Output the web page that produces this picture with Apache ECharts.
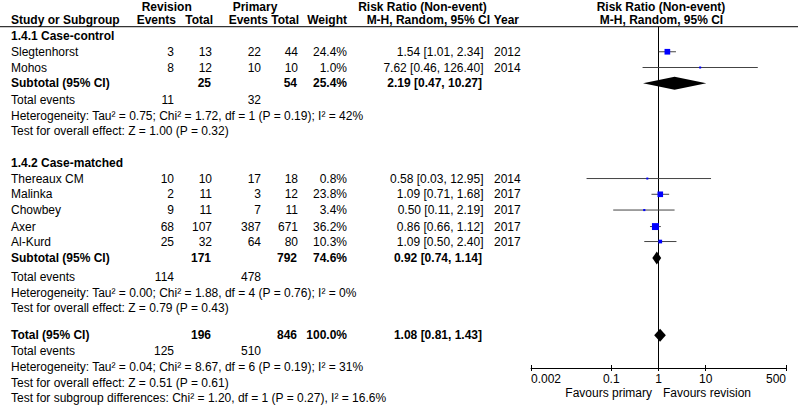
<!DOCTYPE html>
<html><head><meta charset="utf-8">
<style>html,body{margin:0;padding:0;background:#fff}#c{width:798px;height:409px}</style>
<script src="https://cdn.jsdelivr.net/npm/echarts@6/dist/echarts.min.js"></script>
</head><body><div id="c"></div><script>
// ---------------- data ----------------
const studyNames = ['Slegtenhorst','Mohos','Thereaux CM','Malinka','Chowbey','Axer','Al-Kurd'];
const studyGroup = [0,0,1,1,1,1,1];
const revEvents = [3,8,10,2,9,68,25];
const revTotal = [13,12,10,11,11,107,32];
const priEvents = [22,10,17,3,7,387,64];
const priTotal = [44,10,18,12,11,671,80];
const weights = [24.4,1.0,0.8,23.8,3.4,36.2,10.3];
const rr = [1.54,7.62,0.58,1.09,0.50,0.86,1.09];
const ciLow = [1.01,0.46,0.03,0.71,0.11,0.66,0.50];
const ciHigh = [2.34,126.40,12.95,1.68,2.19,1.12,2.40];
const years = [2012,2014,2014,2017,2017,2017,2017];

const groupLabels = ['1.4.1 Case-control','1.4.2 Case-matched'];
const groupRevTotal = [25,171];
const groupPriTotal = [54,792];
const groupWeight = [25.4,74.6];
const groupRR = [2.19,0.92];
const groupLow = [0.47,0.74];
const groupHigh = [10.27,1.14];
const groupRevEvents = [11,114];
const groupPriEvents = [32,478];
const groupHet = ['Heterogeneity: Tau² = 0.75; Chi² = 1.72, df = 1 (P = 0.19); I² = 42%',
                  'Heterogeneity: Tau² = 0.00; Chi² = 1.88, df = 4 (P = 0.76); I² = 0%'];
const groupTest = ['Test for overall effect: Z = 1.00 (P = 0.32)',
                   'Test for overall effect: Z = 0.79 (P = 0.43)'];

const totalValues = {revTotal:196, priTotal:846, weight:100.0, rr:1.08, low:0.81, high:1.43, revEvents:125, priEvents:510};
const totalHet = 'Heterogeneity: Tau² = 0.04; Chi² = 8.67, df = 6 (P = 0.19); I² = 31%';
const totalTest = 'Test for overall effect: Z = 0.51 (P = 0.61)';
const subgroupTest = 'Test for subgroup differences: Chi² = 1.20, df = 1 (P = 0.27), I² = 16.6%';

const tickValues = [0.002,0.1,1,10,500];
const tickLabels = ['0.002','0.1','1','10','500'];
const axisLeftLabel = 'Favours primary';
const axisRightLabel = 'Favours revision';

// ---------------- layout ----------------
const W = 798, ROW_Y0 = 36, ROW_H = 15.75, PLOT_BOTTOM = 368;
const Y_MIN = -ROW_Y0 / ROW_H, Y_MAX = (PLOT_BOTTOM - ROW_Y0) / ROW_H;
const headerRow1 = -1.82, headerRow2 = -1, ruleRow = -0.59;
const groupLayout = [
  {head:0, studies:[1,2], sub:3, te:4.05, het:5.05, test:6.05},
  {head:8.05, studies:[9.05,10.05,11.05,12.1,13.05], sub:14.1, te:15.3, het:16.3, test:17.25}
];
const totalLayout = {total:19, te:20, het:21, test:22, subgroup:23};
const col = {name:11, revEv:174, revTot:212, priEv:261, priTot:298, weight:347, ci:483.5, year:494};
const colBold = {revTot:211, priTot:297, weight:347, ci:482};
const FONT = '"Liberation Sans", Arial, Helvetica, sans-serif';

const fmtCI = (a,b,c) => `${a.toFixed(2)} [${b.toFixed(2)}, ${c.toFixed(2)}]`;
const fmtW = w => w.toFixed(1) + '%';

// ---------------- text table ----------------
const texts = [];
const T = (x, r, t, b, a) => texts.push({x, r, t:String(t), b:!!b, a:a||'right'});
T(166.7, headerRow1, 'Revision', 1, 'center');
T(255, headerRow1, 'Primary', 1, 'center');
T(422.5, headerRow1, 'Risk Ratio (Non-event)', 1, 'center');
T(661, headerRow1, 'Risk Ratio (Non-event)', 1, 'center');
T(col.name, headerRow2, 'Study or Subgroup', 1, 'left');
T(176, headerRow2, 'Events', 1);
T(213, headerRow2, 'Total', 1);
T(268, headerRow2, 'Events', 1);
T(299, headerRow2, 'Total', 1);
T(347, headerRow2, 'Weight', 1);
T(428.3, headerRow2, 'M-H, Random, 95% CI', 1, 'center');
T(519, headerRow2, 'Year', 1);
T(661.5, headerRow2, 'M-H, Random, 95% CI', 1, 'center');

const studyRows = [];
groupLayout.forEach((g, gi) => {
  T(col.name, g.head, groupLabels[gi], 1, 'left');
  let k = 0;
  studyNames.forEach((n, i) => {
    if (studyGroup[i] !== gi) return;
    const r = g.studies[k++];
    studyRows[i] = r;
    T(col.name, r, n, 0, 'left');
    T(col.revEv, r, revEvents[i]);
    T(col.revTot, r, revTotal[i]);
    T(col.priEv, r, priEvents[i]);
    T(col.priTot, r, priTotal[i]);
    T(col.weight, r, fmtW(weights[i]));
    T(col.ci, r, fmtCI(rr[i], ciLow[i], ciHigh[i]));
    T(col.year, r, years[i], 0, 'left');
  });
  T(col.name, g.sub, 'Subtotal (95% CI)', 1, 'left');
  T(colBold.revTot, g.sub, groupRevTotal[gi], 1);
  T(colBold.priTot, g.sub, groupPriTotal[gi], 1);
  T(colBold.weight, g.sub, fmtW(groupWeight[gi]), 1);
  T(colBold.ci, g.sub, fmtCI(groupRR[gi], groupLow[gi], groupHigh[gi]), 1);
  T(col.name, g.te, 'Total events', 0, 'left');
  T(col.revEv, g.te, groupRevEvents[gi]);
  T(col.priEv, g.te, groupPriEvents[gi]);
  T(col.name, g.het, groupHet[gi], 0, 'left');
  T(col.name, g.test, groupTest[gi], 0, 'left');
});
T(col.name, totalLayout.total, 'Total (95% CI)', 1, 'left');
T(colBold.revTot, totalLayout.total, totalValues.revTotal, 1);
T(colBold.priTot, totalLayout.total, totalValues.priTotal, 1);
T(colBold.weight, totalLayout.total, fmtW(totalValues.weight), 1);
T(colBold.ci, totalLayout.total, fmtCI(totalValues.rr, totalValues.low, totalValues.high), 1);
T(col.name, totalLayout.te, 'Total events', 0, 'left');
T(col.revEv, totalLayout.te, totalValues.revEvents);
T(col.priEv, totalLayout.te, totalValues.priEvents);
T(col.name, totalLayout.het, totalHet, 0, 'left');
T(col.name, totalLayout.test, totalTest, 0, 'left');
T(col.name, totalLayout.subgroup, subgroupTest, 0, 'left');

// ---------------- forest data ----------------
const studyData = studyNames.map((n,i) => [rr[i], studyRows[i], ciLow[i], ciHigh[i], weights[i]]);
const diamondData = [
  [groupRR[0], groupLayout[0].sub, groupLow[0], groupHigh[0]],
  [groupRR[1], groupLayout[1].sub, groupLow[1], groupHigh[1]],
  [totalValues.rr, totalLayout.total, totalValues.low, totalValues.high]
];

const chart = echarts.init(document.getElementById('c'), null, {renderer:'svg'});
const tickFmt = v => { for (let i=0;i<tickValues.length;i++) if (Math.abs(Math.log10(v)-Math.log10(tickValues[i]))<1e-6) return tickLabels[i]; return ''; };
const yAx = (gi) => ({type:'value', gridIndex:gi, inverse:true, min:Y_MIN, max:Y_MAX, show:false});
chart.setOption({
  animation:false,
  backgroundColor:'#fff',
  grid:[
    {left:0, right:0, top:0, height:PLOT_BOTTOM},
    {left:531, right:W-786, top:0, height:PLOT_BOTTOM}
  ],
  xAxis:[
    {type:'value', gridIndex:0, min:0, max:W, show:false},
    {type:'log', gridIndex:1, logBase:10, min:0.002, max:500, position:'bottom',
     axisLine:{show:true, onZero:false, lineStyle:{color:'#000', width:1}},
     axisTick:{show:true, length:3, lineStyle:{color:'#000', width:1}, customValues:tickValues},
     axisLabel:{show:true, customValues:tickValues, formatter:tickFmt, color:'#000', fontSize:12, fontFamily:FONT, margin:5,
                alignMinLabel:'left', alignMaxLabel:'right'},
     splitLine:{show:false}, minorTick:{show:false}},
    {type:'log', gridIndex:1, logBase:10, min:0.002, max:500, position:'bottom',
     axisLine:{show:false, onZero:false},
     axisTick:{show:true, inside:true, length:3, lineStyle:{color:'#000', width:1}, customValues:tickValues},
     axisLabel:{show:false}, splitLine:{show:false}}
  ],
  yAxis:[yAx(0), yAx(1)],
  series:[
    {type:'custom', xAxisIndex:0, yAxisIndex:0, silent:true, clip:false,
     data: texts.map(t => [t.x, t.r]),
     renderItem:(params, api) => {
       const it = texts[params.dataIndex];
       const p = api.coord([it.x, it.r]);
       return {type:'text', x:p[0], y:p[1], style:{text:it.t, fill:'#000',
         font:(it.b?'bold ':'')+'12px '+FONT, align:it.a, verticalAlign:'middle'}};
     }},
    {type:'custom', xAxisIndex:0, yAxisIndex:0, silent:true, clip:false,
     data:[[0, ruleRow]],
     renderItem:(params, api) => {
       const a = api.coord([0, ruleRow]), b = api.coord([W, ruleRow]);
       return {type:'line', shape:{x1:a[0], y1:a[1], x2:b[0], y2:b[1]}, style:{stroke:'#000', lineWidth:1}};
     }},
    {type:'custom', xAxisIndex:1, yAxisIndex:1, silent:true, clip:false,
     data:[[1, ruleRow]],
     renderItem:(params, api) => {
       const a = api.coord([1, ruleRow]), b = api.coord([1, Y_MAX]);
       return {type:'line', shape:{x1:a[0], y1:a[1], x2:b[0], y2:b[1]}, style:{stroke:'#000', lineWidth:1}};
     }},
    {type:'custom', xAxisIndex:1, yAxisIndex:1, silent:true, clip:false,
     data: studyData,
     renderItem:(params, api) => {
       const r = api.value(1);
       const c = api.coord([api.value(0), r]);
       const l = api.coord([api.value(2), r]);
       const h = api.coord([api.value(3), r]);
       const s = Math.max(2, 1.15*Math.sqrt(api.value(4)));
       return {type:'group', children:[
         {type:'line', shape:{x1:l[0], y1:c[1], x2:h[0], y2:c[1]}, style:{stroke:'#444', lineWidth:1}},
         {type:'rect', shape:{x:c[0]-s/2, y:c[1]-s/2, width:s, height:s}, style:{fill:'#0000ff'}}
       ]};
     }},
    {type:'custom', xAxisIndex:1, yAxisIndex:1, silent:true, clip:false,
     data: diamondData,
     renderItem:(params, api) => {
       const r = api.value(1);
       const c = api.coord([api.value(0), r]);
       const l = api.coord([api.value(2), r]);
       const h = api.coord([api.value(3), r]);
       const hh = 6.5;
       return {type:'polygon', shape:{points:[[l[0],c[1]],[c[0],c[1]-hh],[h[0],c[1]],[c[0],c[1]+hh]]}, style:{fill:'#000'}};
     }}
  ],
  graphic:[
    {type:'text', x:652, y:393, style:{text:axisLeftLabel, fill:'#000', font:'12px '+FONT, align:'right', verticalAlign:'middle'}},
    {type:'text', x:663, y:393, style:{text:axisRightLabel, fill:'#000', font:'12px '+FONT, align:'left', verticalAlign:'middle'}}
  ]
});
</script></body></html>
